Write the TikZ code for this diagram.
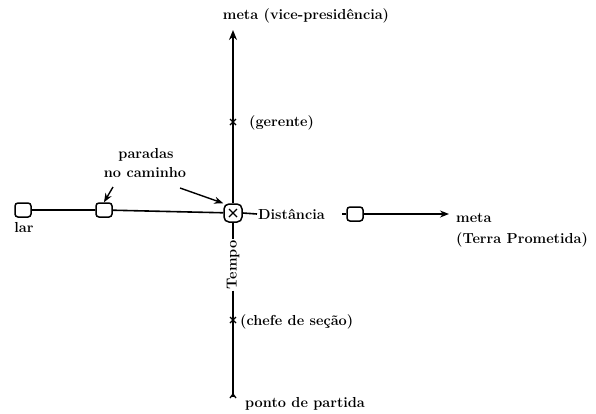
\documentclass[tikz,border=0pt]{standalone}
\usetikzlibrary{arrows.meta,calc}
\begin{document}
\begin{tikzpicture}[x=1pt,y=-1pt,
  lbl/.style={font=\fontsize{14.5}{16}\selectfont\bfseries, inner sep=1pt},
  stopbox/.style={draw, line width=1.5pt, rounded corners=3pt, minimum width=16pt, minimum height=14pt, inner sep=0pt},
  hub/.style={draw, line width=1.5pt, rounded corners=5pt, minimum size=18pt, inner sep=0pt,
    path picture={\draw[line width=1.3pt] ([shift={(-4pt,-4pt)}]path picture bounding box.center) -- ([shift={(4pt,4pt)}]path picture bounding box.center);
                  \draw[line width=1.3pt] ([shift={(-4pt,4pt)}]path picture bounding box.center) -- ([shift={(4pt,-4pt)}]path picture bounding box.center);}},
  axis/.style={line width=1.6pt},
  arr/.style={line width=1.4pt, -{Stealth[length=9pt,width=7pt]}},
  tick/.style={line width=1.3pt}]
\useasboundingbox (0,0) rectangle (596,413);
% nodes
\node[stopbox] (lar) at (23,210) {};
\node[stopbox] (stop) at (104,210) {};
\node[hub] (o) at (233,213) {};
\node[stopbox] (goal) at (355,214) {};
\coordinate (top) at (233,30);
\coordinate (bot) at (233,397);
\coordinate (g) at (233,122);
\coordinate (c) at (233,320);
\coordinate (dR) at (342,214);
\coordinate (arrEnd) at (449,214);
\coordinate (p1) at (113,187);
\coordinate (p2) at (180,188);
\node[lbl, rotate=90] (tempo) at (233,265) {Tempo};
% labels
\node[lbl] (toplbl) at (306,16) {meta (vice-presidência)};
\node[lbl, anchor=west] (ger) at (248,123) {(gerente)};
\node[lbl, anchor=west] (chef) at (239,322) {(chefe de seção)};
\node[lbl, anchor=west] (ponto) at (244,404) {ponto de partida};
\node[lbl, anchor=west] (dist) at (257,214) {Distância};
\node[lbl, anchor=west] (metaR) at (455,218) {meta};
\node[lbl, anchor=west] (terra) at (455,240) {(Terra Prometida)};
\node[lbl] (larlbl) at (24,228) {lar};
\node[lbl] (par1) at (146,155) {paradas};
\node[lbl] (par2) at (145,173) {no caminho};
% axes
\draw[axis, -{Stealth[length=10pt,width=8pt]}] (o.north) -- (top);
\draw[axis] (o.south) -- (tempo.east);
\draw[axis] (tempo.west) -- (bot);
\draw[axis] (lar) -- (stop) -- (o);
\draw[axis] (o.east) -- (dist.west);
\draw[axis] (dR) -- (goal);
\draw[arr] (goal) -- (arrEnd);
% ticks
\foreach \p in {g,c}{
  \draw[tick] ($(\p)+(-3,-3)$) -- ($(\p)+(3,3)$);
  \draw[tick] ($(\p)+(-3,3)$) -- ($(\p)+(3,-3)$);
}
\draw[tick] ($(bot)+(-3,1)$) -- ($(bot)+(0,-3)$) -- ($(bot)+(3,1)$);
% pointer arrows
\draw[arr] (p1) -- (stop.north);
\draw[arr] (p2) -- (o.north west);
\end{tikzpicture}
\end{document}
